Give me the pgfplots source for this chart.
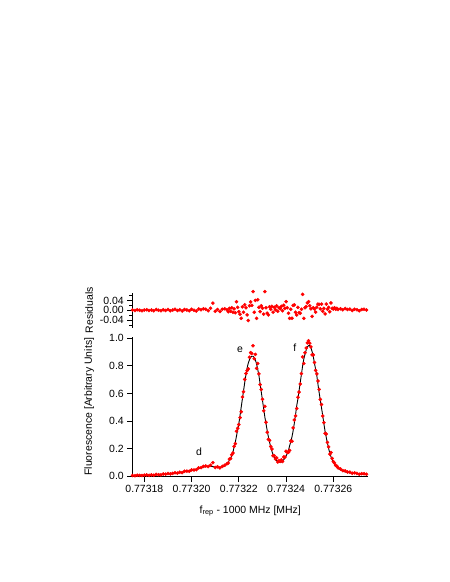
\documentclass[border=0pt]{standalone}
\usepackage{fontspec}
\setmainfont{Liberation Sans}
\usepackage{pgfplots}
\usepackage{pgfplotstable}
\pgfplotsset{compat=1.18}
\pgfplotstableread{
x fit res dat
17.5 0.003 0.001 0.004
17.6 0.003 -0.001 0.002
17.7 0.004 0.002 0.006
17.8 0.004 0.000 0.004
17.9 0.005 -0.002 0.003
18.0 0.005 0.001 0.006
18.1 0.006 0.002 0.008
18.2 0.006 -0.001 0.005
18.3 0.007 0.001 0.008
18.4 0.008 -0.002 0.006
18.5 0.009 0.003 0.012
18.6 0.010 0.000 0.010
18.7 0.011 -0.002 0.009
18.8 0.012 0.002 0.014
18.9 0.014 -0.001 0.013
19.0 0.015 0.003 0.018
19.1 0.017 -0.002 0.015
19.2 0.018 0.001 0.019
19.3 0.020 0.004 0.024
19.4 0.022 -0.001 0.021
19.5 0.025 0.002 0.027
19.6 0.028 -0.003 0.025
19.7 0.031 0.003 0.034
19.8 0.034 0.001 0.035
19.9 0.037 -0.002 0.035
20.0 0.040 0.004 0.044
20.1 0.044 0.000 0.044
20.2 0.049 -0.003 0.046
20.3 0.054 0.005 0.059
20.4 0.059 0.002 0.061
20.5 0.064 0.006 0.070
20.6 0.069 0.004 0.073
20.7 0.071 -0.002 0.069
20.8 0.070 0.008 0.078
20.9 0.068 0.029 0.097
21.0 0.066 -0.004 0.062
21.1 0.064 0.003 0.067
21.2 0.064 -0.005 0.059
21.3 0.066 0.004 0.070
21.4 0.072 0.006 0.078
21.50 0.088 0.002 0.090
21.55 0.100 -0.006 0.094
21.60 0.115 0.008 0.123
21.65 0.130 -0.004 0.126
21.70 0.145 0.010 0.155
21.75 0.175 -0.008 0.167
21.80 0.210 0.006 0.216
21.85 0.245 -0.010 0.235
21.90 0.290 0.035 0.325
21.95 0.335 0.012 0.347
22.00 0.380 -0.006 0.374
22.05 0.440 -0.016 0.424
22.10 0.500 -0.033 0.467
22.15 0.560 0.014 0.574
22.20 0.620 -0.008 0.612
22.25 0.680 0.022 0.702
22.30 0.735 0.010 0.745
22.35 0.785 -0.019 0.766
22.40 0.820 -0.042 0.778
22.45 0.845 0.018 0.863
22.50 0.862 0.034 0.896
22.55 0.870 0.020 0.890
22.60 0.870 0.076 0.946
22.65 0.860 -0.008 0.852
22.70 0.843 0.040 0.883
22.75 0.815 -0.033 0.782
22.80 0.775 0.043 0.818
22.85 0.730 0.012 0.742
22.90 0.670 -0.006 0.664
22.95 0.610 0.018 0.628
23.00 0.550 0.008 0.558
23.05 0.490 -0.016 0.474
23.10 0.430 0.076 0.506
23.15 0.380 0.010 0.390
23.20 0.330 -0.012 0.318
23.25 0.285 -0.019 0.266
23.30 0.245 0.014 0.259
23.35 0.210 0.004 0.214
23.40 0.180 0.016 0.196
23.45 0.155 -0.008 0.147
23.50 0.135 0.012 0.147
23.55 0.122 0.002 0.124
23.60 0.113 0.018 0.131
23.65 0.106 -0.004 0.102
23.70 0.101 0.010 0.111
23.75 0.100 0.006 0.106
23.80 0.101 0.016 0.117
23.85 0.108 -0.002 0.106
23.90 0.118 0.020 0.138
23.95 0.130 0.008 0.138
24.00 0.145 0.035 0.180
24.05 0.163 0.010 0.173
24.10 0.185 -0.012 0.173
24.15 0.220 -0.033 0.187
24.20 0.250 0.004 0.254
24.25 0.285 -0.033 0.252
24.30 0.330 0.020 0.350
24.35 0.385 0.022 0.407
24.40 0.445 -0.008 0.437
24.45 0.510 -0.019 0.491
24.50 0.560 0.012 0.572
24.55 0.620 -0.010 0.610
24.60 0.680 -0.012 0.668
24.65 0.740 0.004 0.744
24.70 0.800 0.065 0.865
24.75 0.850 -0.033 0.817
24.80 0.885 0.010 0.895
24.85 0.915 0.015 0.930
24.90 0.937 0.030 0.967
24.95 0.947 0.035 0.982
25.00 0.947 0.018 0.965
25.05 0.932 0.006 0.938
25.10 0.905 -0.025 0.880
25.15 0.870 0.010 0.880
25.20 0.820 0.005 0.825
25.25 0.775 -0.008 0.767
25.30 0.730 0.012 0.742
25.35 0.665 0.025 0.690
25.40 0.605 0.024 0.629
25.45 0.550 0.006 0.556
25.50 0.495 0.025 0.520
25.55 0.440 -0.004 0.436
25.60 0.380 0.008 0.388
25.65 0.325 -0.015 0.310
25.70 0.280 0.025 0.305
25.75 0.240 0.004 0.244
25.80 0.200 0.012 0.212
25.85 0.165 -0.006 0.159
25.90 0.140 0.030 0.170
25.95 0.120 0.008 0.128
26.00 0.100 0.005 0.105
26.05 0.085 0.010 0.095
26.10 0.073 0.004 0.077
26.15 0.064 0.008 0.072
26.20 0.056 0.003 0.059
26.3 0.045 0.006 0.051
26.4 0.037 0.002 0.039
26.5 0.030 0.007 0.037
26.6 0.026 0.003 0.029
26.7 0.023 0.005 0.028
26.8 0.021 -0.001 0.020
26.9 0.019 0.004 0.023
27.0 0.017 0.002 0.019
27.1 0.015 -0.002 0.013
27.2 0.014 0.003 0.017
27.3 0.013 0.004 0.017
27.4 0.012 0.001 0.013
}\datatable
\begin{document}
\begin{tikzpicture}
\useasboundingbox (0,0) rectangle (450bp,582bp);
\pgfplotsset{
  every axis/.append style={
    font=\fontsize{10.5}{12}\selectfont,
    scale only axis,
    width=236bp,
    xmin=17.49, xmax=27.48,
    tick align=outside,
    major tick length=5bp,
    minor tick length=3bp,
    axis line style={line width=0.8bp},
    every tick/.style={black, line width=0.8bp},
    /pgf/number format/assume math mode=true,
    clip=false,
  },
}
% main plot
\begin{axis}[
  at={(132.3bp,105.3bp)}, anchor=south west,
  height=140bp,
  ymin=-0.005, ymax=1.012,
  axis x line*=bottom, axis y line*=left,
  xtick={18,20,22,24,26},
  xticklabels={0.77318,0.77320,0.77322,0.77324,0.77326},
  ytick={0,0.2,0.4,0.6,0.8,1.0},
  yticklabel style={/pgf/number format/fixed, /pgf/number format/fixed zerofill, /pgf/number format/precision=1},
  xlabel={f\textsubscript{rep} - 1000 MHz [MHz]},
  ylabel={Fluorescence [Arbitrary Units]},
  xlabel style={at={(axis description cs:0.5,-0.245)}, anchor=center},
  ylabel style={at={(axis description cs:-0.183,0.5)}, anchor=center},
]
\addplot[only marks, mark=*, mark size=1.6bp, color=red] table[x=x, y=dat] {\datatable};
\addplot[black, line width=0.9bp, no marks] table[x=x, y=fit] {\datatable};
\node at (axis cs:22.05,0.92) {e};
\node at (axis cs:24.37,0.93) {f};
\node at (axis cs:20.32,0.175) {d};
\end{axis}
% residuals
\begin{axis}[
  at={(132.3bp,254.1bp)}, anchor=south west,
  height=35.3bp,
  ymin=-0.072, ymax=0.072,
  axis x line=none, axis y line*=left,
  ytick={-0.04,0,0.04},
  minor ytick={-0.06,-0.02,0.02,0.06},
  scaled y ticks=false,
  yticklabel style={/pgf/number format/fixed, /pgf/number format/fixed zerofill, /pgf/number format/precision=2},
  ylabel={Residuals},
  ylabel style={at={(axis description cs:-0.183,0.5)}, anchor=center},
]
\addplot[only marks, mark=*, mark size=1.6bp, color=red] table[x=x, y=res] {\datatable};
\end{axis}
\end{tikzpicture}
\end{document}
